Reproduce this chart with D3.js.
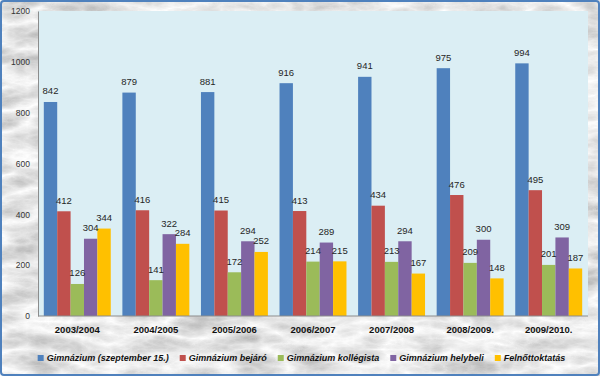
<!DOCTYPE html>
<html>
<head>
<meta charset="utf-8">
<script src="https://cdn.jsdelivr.net/npm/d3@7/dist/d3.min.js"></script>
<style>
  html, body { margin: 0; padding: 0; background: #fff; }
  svg { display: block; }
</style>
</head>
<body>
<svg id="chart" width="600" height="376"></svg>
<script>
const categories = ["2003/2004", "2004/2005", "2005/2006", "2006/2007", "2007/2008", "2008/2009.", "2009/2010."];
const seriesNames = ["Gimnázium (szeptember 15.)", "Gimnázium bejáró", "Gimnázium kollégista", "Gimnázium helybeli", "Felnőttoktatás"];
const gimnazium = [842, 879, 881, 916, 941, 975, 994];
const bejaro = [412, 416, 415, 413, 434, 476, 495];
const kollegista = [126, 141, 172, 214, 213, 209, 201];
const helybeli = [304, 322, 294, 289, 294, 300, 309];
const felnott = [344, 284, 252, 215, 167, 148, 187];
const yTicks = [0, 200, 400, 600, 800, 1000, 1200];
const colors = ["#4F81BD", "#C0504D", "#9BBB59", "#8064A2", "#FFC000"];

const seriesValues = [gimnazium, bejaro, kollegista, helybeli, felnott];

const svg = d3.select("#chart");
const W = 600, H = 376;
const plot = { left: 38, right: 588, top: 11, bottom: 316 };

// marble-like background
const defs = svg.append("defs");
const f = defs.append("filter").attr("id", "marble")
  .attr("filterUnits", "userSpaceOnUse")
  .attr("x", 0).attr("y", 0).attr("width", W).attr("height", H);
f.append("feTurbulence").attr("type", "turbulence")
  .attr("baseFrequency", "0.018 0.045").attr("numOctaves", 5).attr("seed", 11).attr("result", "t");
f.append("feColorMatrix").attr("type", "matrix")
  .attr("values", "-0.65 0 0 0 1.02  -0.65 0 0 0 1.02  -0.65 0 0 0 1.02  0 0 0 0 1");

svg.append("rect").attr("x", 0).attr("y", 0).attr("width", W).attr("height", H).attr("fill", "#e2e2e2");
svg.append("rect").attr("x", 0).attr("y", 0).attr("width", W).attr("height", H)
  .attr("fill", "#e2e2e2").attr("filter", "url(#marble)");
svg.append("rect").attr("x", 1).attr("y", 1).attr("width", W - 2).attr("height", H - 2)
  .attr("rx", 3).attr("fill", "none").attr("stroke", "#4F81BD").attr("stroke-width", 2);

// scales
const x0 = d3.scaleBand().domain(categories).range([plot.left, plot.right])
  .paddingInner(0.148).paddingOuter(0.074);
const x1 = d3.scaleBand().domain(d3.range(seriesNames.length)).range([0, x0.bandwidth()]);
const y = d3.scaleLinear().domain([0, 1200]).range([plot.bottom, plot.top]);

// plot area
svg.append("rect").attr("x", plot.left).attr("y", plot.top)
  .attr("width", plot.right - plot.left).attr("height", plot.bottom - plot.top)
  .attr("fill", "#DBEEF4");

// y axis
const yAxis = d3.axisLeft(y).tickValues(yTicks).tickSize(0).tickPadding(8).tickFormat(d3.format("d"));
const gy = svg.append("g").attr("transform", `translate(${plot.left},0)`).call(yAxis);
gy.select(".domain").attr("stroke", "#8c8c8c");
gy.selectAll("text").attr("font-family", "Liberation Sans, Arial, sans-serif")
  .attr("font-size", "8.5px").attr("fill", "#333");

// bars
const groups = svg.append("g").selectAll("g").data(categories).join("g")
  .attr("transform", d => `translate(${x0(d)},0)`);
groups.each(function (cat, ci) {
  const g = d3.select(this);
  seriesValues.forEach((vals, si) => {
    const v = vals[ci];
    g.append("rect").attr("x", x1(si)).attr("y", y(v))
      .attr("width", x1.bandwidth()).attr("height", y(0) - y(v))
      .attr("fill", colors[si]);
  });
  seriesValues.forEach((vals, si) => {
    const v = vals[ci];
    g.append("text").attr("x", x1(si) + x1.bandwidth() / 2).attr("y", y(v) - 7.5)
      .attr("text-anchor", "middle")
      .attr("font-family", "Liberation Sans, Arial, sans-serif")
      .attr("font-size", "9.5px").attr("fill", "#262626").text(v);
  });
});

// x axis
const xAxis = d3.axisBottom(x0).tickSize(0).tickPadding(10);
const gx = svg.append("g").attr("transform", `translate(0,${plot.bottom})`).call(xAxis);
gx.select(".domain").attr("stroke", "#8c8c8c").attr("d", `M${plot.left},0H${plot.right}`);
gx.selectAll("text").attr("font-family", "Liberation Sans, Arial, sans-serif")
  .attr("font-size", "9.5px").attr("font-weight", "bold").attr("fill", "#111");

// legend
const legend = svg.append("g");
const items = legend.selectAll("g").data(seriesNames).join("g");
items.append("rect").attr("width", 6).attr("height", 6).attr("y", -6)
  .attr("fill", (d, i) => colors[i]);
items.append("text").attr("x", 9).attr("y", 0)
  .attr("font-family", "Liberation Sans, Arial, sans-serif")
  .attr("font-size", "9px").attr("font-weight", "bold").attr("font-style", "italic")
  .attr("fill", "#111").text(d => d);
let cx = 0;
const gap = 11;
items.each(function () {
  const el = d3.select(this);
  el.attr("transform", `translate(${cx},0)`);
  const tw = el.select("text").node().getComputedTextLength();
  cx += 9 + tw + gap;
});
const totalW = cx - gap;
legend.attr("transform", `translate(${(35 + 568) / 2 - totalW / 2},361)`);
</script>
</body>
</html>
